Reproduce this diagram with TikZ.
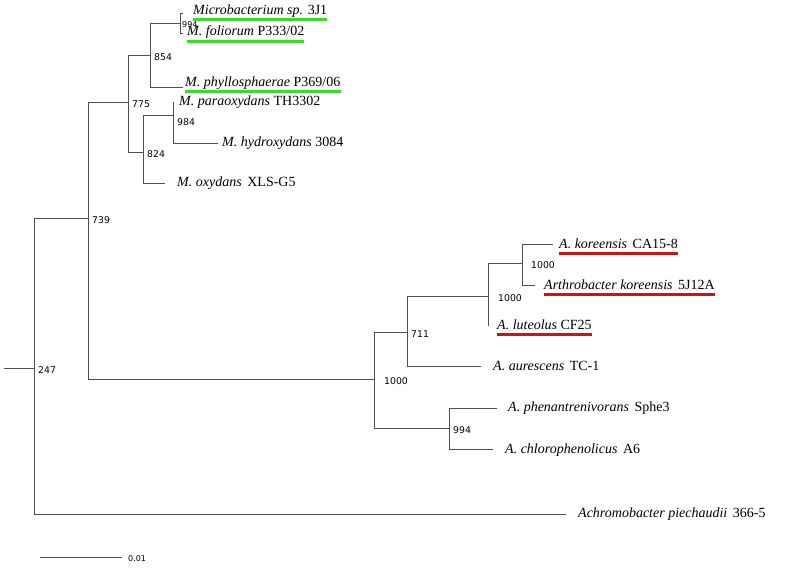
\documentclass[tikz,border=0pt]{standalone}
\usepackage{fontspec}
\setmainfont{Liberation Serif}
\newfontfamily\bootfont{DejaVu Sans}
\definecolor{treegray}{HTML}{505050}
\definecolor{markgreen}{HTML}{3ADB2A}
\definecolor{markred}{HTML}{CC1414}
\tikzset{
  branch/.style={draw=treegray, line width=1pt},
  taxon/.style={anchor=west, inner sep=0pt, font=\fontsize{14}{16}\selectfont, text height=9.5pt, text depth=3.2pt},
  boot/.style={anchor=west, inner sep=0pt, font=\bootfont\fontsize{9.3}{11}\selectfont, xshift=4pt, yshift=-2pt},
  greenmark/.style={draw=markgreen, line width=3pt},
  redmark/.style={draw=markred, line width=3pt},
}
\newcommand{\wgap}{\hspace{0.4em}}
\begin{document}
\begin{tikzpicture}[x=1pt, y=-1pt]
		\useasboundingbox (0,0) rectangle (787,571);
		\coordinate (root) at (4,368);
		\coordinate (n247) at (34,368);
		\coordinate (n739) at (88,218);
		\coordinate (n775) at (128,102);
		\coordinate (n854) at (150,55);
		\coordinate (n994a) at (180,23);
		\coordinate (n824) at (143,152);
		\coordinate (n984) at (173,115);
		\coordinate (nA) at (374,379);
		\coordinate (n711) at (407,332);
		\coordinate (n1000b) at (488,296);
		\coordinate (n1000c) at (522,263);
		\coordinate (n994b) at (449,428);
		
		\coordinate (tmsp) at (183,13);
		\coordinate (tfol) at (183,33);
		\coordinate (tphy) at (183,87);
		\coordinate (tpar) at (173,102);
		\coordinate (thyd) at (218,143);
		\coordinate (toxy) at (165,183);
		\coordinate (tkor) at (553,244);
		\coordinate (tart) at (535,285);
		\coordinate (tlut) at (488,326);
		\coordinate (taur) at (481,366);
		\coordinate (tphe) at (497,408);
		\coordinate (tchl) at (493,449);
		\coordinate (tach) at (566,514);
		
		\node[taxon] (msp) at (193,11) {\textit{Microbacterium sp.} 3J1};
		\node[taxon, text height=8pt] (fol) at (187,33.5) {\textit{M. foliorum} P333/02};
		\node[taxon] (phy) at (185,83) {\textit{M. phyllosphaerae} P369/06};
		\node[taxon] (par) at (179,102) {\textit{M. paraoxydans} TH3302};
		\node[taxon] (hyd) at (222,143) {\textit{M. hydroxydans} 3084};
		\node[taxon] (oxy) at (177,183) {\textit{M. oxydans}\wgap XLS-G5};
		\node[taxon] (kor) at (559,245) {\textit{A. koreensis}\wgap CA15-8};
		\node[taxon] (art) at (544,286) {\textit{Arthrobacter koreensis}\wgap 5J12A};
		\node[taxon] (lut) at (497,326) {\textit{A. luteolus} CF25};
		\node[taxon] (aur) at (493,367) {\textit{A. aurescens}\wgap TC-1};
		\node[taxon] (phe) at (508,408) {\textit{A. phenantrenivorans}\wgap Sphe3};
		\node[taxon] (chl) at (505,450) {\textit{A. chlorophenolicus}\wgap A6};
		\node[taxon] (ach) at (578,514) {\textit{Achromobacter piechaudii}\wgap 366-5};
		
		\draw[branch] (root) -- (n247);
		\draw[branch] (n247) |- (n739);
		\draw[branch] (n247) |- (tach);
		\draw[branch] (n739) |- (n775);
		\draw[branch] (n739) |- (nA);
		\draw[branch] (n775) |- (n854);
		\draw[branch] (n775) |- (n824);
		\draw[branch] (n854) |- (n994a);
		\draw[branch] (n854) |- (tphy);
		\draw[branch] (n994a) |- (tmsp);
		\draw[branch] (n994a) |- (tfol);
		\draw[branch] (n824) |- (n984);
		\draw[branch] (n824) |- (toxy);
		\draw[branch] (n984) |- (tpar);
		\draw[branch] (n984) |- (thyd);
		\draw[branch] (nA) |- (n711);
		\draw[branch] (nA) |- (n994b);
		\draw[branch] (n711) |- (n1000b);
		\draw[branch] (n711) |- (taur);
		\draw[branch] (n1000b) |- (n1000c);
		\draw[branch] (n1000b) |- (tlut);
		\draw[branch] (n1000c) |- (tkor);
		\draw[branch] (n1000c) |- (tart);
		\draw[branch] (n994b) |- (tphe);
		\draw[branch] (n994b) |- (tchl);
		
		\draw[greenmark] ([yshift=-2pt]msp.south west) -- ([yshift=-2pt]msp.south east);
		\draw[greenmark] ([yshift=-2pt]fol.south west) -- ([yshift=-2pt]fol.south east);
		\draw[greenmark] ([yshift=-2pt]phy.south west) -- ([yshift=-2pt]phy.south east);
		\draw[redmark] ([yshift=-2pt]kor.south west) -- ([yshift=-2pt]kor.south east);
		\draw[redmark] ([yshift=-2pt]art.south west) -- ([yshift=-2pt]art.south east);
		\draw[redmark] ([yshift=-2pt]lut.south west) -- ([yshift=-2pt]lut.south east);
		
		\node[boot] (b247) at (n247) {247};
		\node[boot] (b739) at (n739) {739};
		\node[boot] (b775) at (n775) {775};
		\node[boot] (b854) at (n854) {854};
		\node[boot, xshift=-2pt, yshift=0.5pt, font=\bootfont\fontsize{8}{9}\selectfont] (b994a) at (n994a) {994};
		\node[boot] (b824) at (n824) {824};
		\node[boot, yshift=-5pt] (b984) at (n984) {984};
		\node[boot, xshift=6pt] (bA) at (nA) {1000};
		\node[boot] (b711) at (n711) {711};
		\node[boot, xshift=6pt] (b1000b) at (n1000b) {1000};
		\node[boot, xshift=5pt] (b1000c) at (n1000c) {1000};
		\node[boot] (b994b) at (n994b) {994};
		
		\coordinate (s1) at (40,557);
		\coordinate (s2) at (122,557);
		\draw[branch] (s1) -- (s2);
		\node[boot, xshift=2pt, yshift=0pt, font=\bootfont\fontsize{8}{10}\selectfont] (scale) at (s2) {0.01};
\end{tikzpicture}
\end{document}
